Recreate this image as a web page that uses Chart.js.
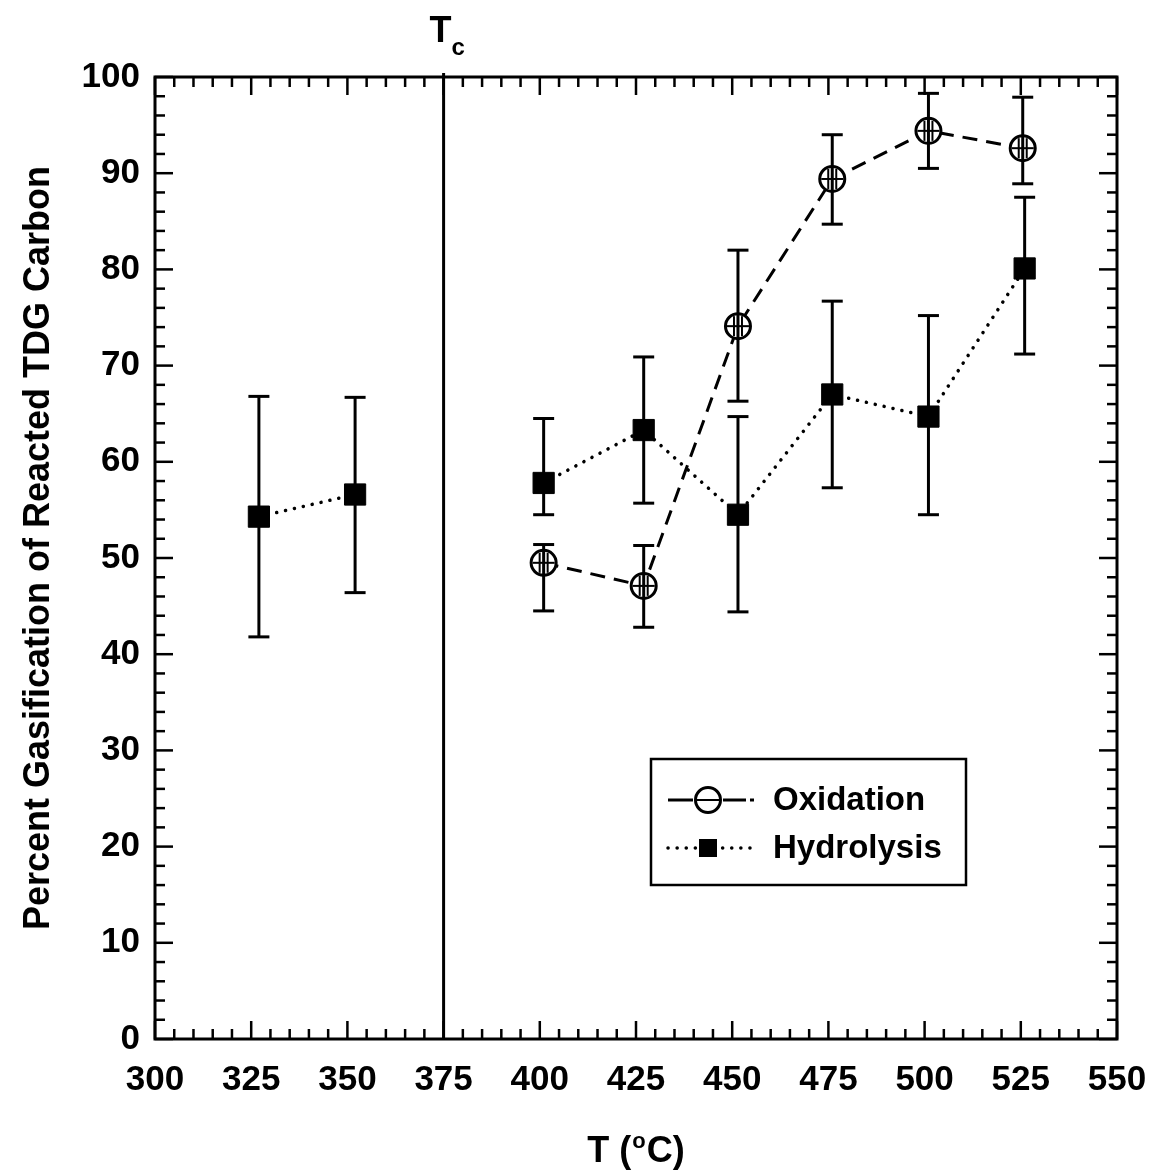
<!DOCTYPE html>
<html>
<head>
<meta charset="utf-8">
<script src="https://cdn.jsdelivr.net/npm/chart.js@4.4.1/dist/chart.umd.min.js"></script>
<style>
    body { margin: 0; background: #fff; }
    #wrap { width: 1150px; height: 1170px; }
</style>
</head>
<body>
<div id="wrap"><canvas id="gasChart"></canvas></div>
<script>

// Hydrolysis runs (filled squares)
const hydroTemp = [327, 352, 401, 427, 451.5, 476, 501, 526];
const hydroPct  = [54.3, 56.6, 57.8, 63.3, 54.5, 67.0, 64.7, 80.1];
const hydroHigh = [66.8, 66.7, 64.5, 70.9, 64.7, 76.7, 75.2, 87.5];
const hydroLow  = [41.8, 46.4, 54.5, 55.7, 44.4, 57.3, 54.5, 71.2];

// Oxidation runs (open circles)
const oxTemp = [401, 427, 451.5, 476, 501, 525.5];
const oxPct  = [49.5, 47.1, 74.1, 89.4, 94.4, 92.6];
const oxHigh = [51.4, 51.3, 82.0, 94.0, 98.3, 97.9];
const oxLow  = [44.5, 42.8, 66.3, 84.7, 90.5, 88.9];

// critical temperature of water
const criticalTemp = 375;

const seriesNames = ['Oxidation', 'Hydrolysis'];
const xTitle = ['T (', 'o', 'C)'];
const yTitle = 'Percent Gasification of Reacted TDG Carbon';

const FONT = "'Liberation Sans', Arial, Helvetica, sans-serif";

// the dotted line is broken at Tc (sub- and supercritical runs are separate)
function toPoints(xs, ys, breakAt) {
    const pts = [];
    xs.forEach(function (x, i) {
        if (breakAt !== undefined && i > 0 && xs[i - 1] < breakAt && x > breakAt) {
            pts.push({ x: breakAt, y: null });
        }
        pts.push({ x: x, y: ys[i] });
    });
    return pts;
}

function seg(ctx, x1, y1, x2, y2) {
    ctx.beginPath();
    ctx.moveTo(x1, y1);
    ctx.lineTo(x2, y2);
    ctx.stroke();
}

// frame, inward ticks, Tc line, titles and legend
const plotDecor = {
    id: 'plotDecor',
    afterDatasetsDraw: function (chart) {
        const ctx = chart.ctx;
        const a = chart.chartArea;
        const xs = chart.scales.x;
        const ys = chart.scales.y;

        ctx.save();
        ctx.strokeStyle = '#000';
        ctx.fillStyle = '#000';
        ctx.setLineDash([]);

        // error bars
        ctx.lineWidth = 3;
        function errorBars(temps, highs, lows) {
            temps.forEach(function (t, i) {
                const px = xs.getPixelForValue(t);
                const top = ys.getPixelForValue(highs[i]);
                const bot = ys.getPixelForValue(lows[i]);
                seg(ctx, px, top, px, bot);
                seg(ctx, px - 10.5, top, px + 10.5, top);
                seg(ctx, px - 10.5, bot, px + 10.5, bot);
            });
        }
        errorBars(hydroTemp, hydroHigh, hydroLow);
        errorBars(oxTemp, oxHigh, oxLow);

        // crossbar inside the open circles
        ctx.lineWidth = 2;
        oxTemp.forEach(function (t, i) {
            const px = xs.getPixelForValue(t);
            const py = ys.getPixelForValue(oxPct[i]);
            seg(ctx, px - 11, py, px + 11, py);
            seg(ctx, px - 4, py - 10, px - 4, py + 10);
            seg(ctx, px + 4, py - 10, px + 4, py + 10);
        });

        // Tc line
        ctx.lineWidth = 3;
        const tcx = xs.getPixelForValue(criticalTemp);
        seg(ctx, tcx, a.top - 4, tcx, a.bottom);

        // frame
        ctx.lineWidth = 3;
        ctx.strokeRect(a.left, a.top, a.right - a.left, a.bottom - a.top);

        // inward ticks on all four sides
        ctx.lineWidth = 2.5;
        for (let t = xs.min; t <= xs.max; t += 5) {
            const px = xs.getPixelForValue(t);
            const len = t % 25 === 0 ? 18 : 10;
            seg(ctx, px, a.bottom, px, a.bottom - len);
            seg(ctx, px, a.top, px, a.top + len);
        }
        for (let v = ys.min; v <= ys.max; v += 2) {
            const py = ys.getPixelForValue(v);
            const len = v % 10 === 0 ? 18 : 10;
            seg(ctx, a.left, py, a.left + len, py);
            seg(ctx, a.right, py, a.right - len, py);
        }

        // Tc label
        ctx.textAlign = 'left';
        ctx.textBaseline = 'alphabetic';
        ctx.font = 'bold 36px ' + FONT;
        ctx.fillText('T', tcx - 14, 42);
        ctx.font = 'bold 24px ' + FONT;
        ctx.fillText('c', tcx + 8, 55);

        // x title with superscript degree
        ctx.font = 'bold 36px ' + FONT;
        const w1 = ctx.measureText(xTitle[0]).width;
        const w3 = ctx.measureText(xTitle[2]).width;
        ctx.font = 'bold 22px ' + FONT;
        const w2 = ctx.measureText(xTitle[1]).width + 2;
        let tx = (a.left + a.right) / 2 - (w1 + w2 + w3) / 2;
        ctx.font = 'bold 36px ' + FONT;
        ctx.fillText(xTitle[0], tx, 1162);
        ctx.font = 'bold 22px ' + FONT;
        ctx.fillText(xTitle[1], tx + w1 + 1, 1148);
        ctx.font = 'bold 36px ' + FONT;
        ctx.fillText(xTitle[2], tx + w1 + w2, 1162);

        // y title
        ctx.save();
        ctx.translate(49, 548);
        ctx.rotate(-Math.PI / 2);
        ctx.textAlign = 'center';
        ctx.font = 'bold 36px ' + FONT;
        ctx.fillText(yTitle, 0, 0);
        ctx.restore();

        // legend
        ctx.lineWidth = 2.5;
        ctx.strokeRect(651, 759, 315, 126);

        ctx.lineWidth = 3;
        seg(ctx, 668, 800, 693, 800);
        seg(ctx, 723, 800, 746, 800);
        seg(ctx, 750, 800, 754, 800);
        ctx.beginPath();
        ctx.arc(708, 800, 12.5, 0, Math.PI * 2);
        ctx.fillStyle = '#fff';
        ctx.fill();
        ctx.stroke();
        ctx.lineWidth = 2;
        seg(ctx, 696, 800, 720, 800);

        ctx.fillStyle = '#000';
        ctx.lineWidth = 3.5;
        ctx.lineCap = 'round';
        ctx.setLineDash([0.1, 9]);
        seg(ctx, 668, 848, 754, 848);
        ctx.setLineDash([]);
        ctx.lineCap = 'butt';
        ctx.fillRect(699, 839, 18, 18);

        ctx.font = 'bold 33px ' + FONT;
        ctx.textBaseline = 'middle';
        ctx.fillText(seriesNames[0], 773, 801);
        ctx.fillText(seriesNames[1], 773, 849);

        ctx.restore();
    }
};

const ctxGas = document.getElementById('gasChart').getContext('2d');
const gasChart = new Chart(ctxGas, {
    type: 'scatter',
    data: {
        datasets: [{
            label: seriesNames[0],
            data: toPoints(oxTemp, oxPct),
            showLine: true,
            borderColor: '#000',
            borderWidth: 3,
            borderDash: [15, 9],
            pointStyle: 'circle',
            pointRadius: 12.5,
            pointBorderWidth: 3,
            pointBorderColor: '#000',
            pointBackgroundColor: '#fff'
        }, {
            label: seriesNames[1],
            data: toPoints(hydroTemp, hydroPct, criticalTemp),
            showLine: true,
            spanGaps: false,
            borderColor: '#000',
            borderWidth: 3.5,
            borderDash: [0.1, 9],
            borderCapStyle: 'round',
            pointStyle: 'rect',
            pointRadius: 15,
            pointBorderWidth: 1,
            pointBorderColor: '#000',
            pointBackgroundColor: '#000'
        }]
    },
    options: {
        responsive: true,
        maintainAspectRatio: false,
        animation: false,
        events: [],
        layout: { padding: { left: 0, right: 33, top: 77, bottom: 0 } },
        plugins: {
            legend: { display: false },
            tooltip: { enabled: false }
        },
        scales: {
            x: {
                type: 'linear',
                min: 300,
                max: 550,
                grid: { display: false, drawTicks: false },
                border: { display: false },
                ticks: {
                    stepSize: 25,
                    padding: 20,
                    maxRotation: 0,
                    color: '#000',
                    font: { family: FONT, size: 35, weight: 'bold' }
                },
                afterFit: function (scale) {
                    scale.height = 131;
                    scale.paddingLeft = 0;
                    scale.paddingRight = 0;
                }
            },
            y: {
                min: 0,
                max: 100,
                grid: { display: false, drawTicks: false },
                border: { display: false },
                ticks: {
                    stepSize: 10,
                    padding: 15,
                    color: '#000',
                    font: { family: FONT, size: 35, weight: 'bold' }
                },
                afterFit: function (scale) {
                    scale.width = 155;
                    scale.paddingTop = 0;
                    scale.paddingBottom = 0;
                }
            }
        }
    },
    plugins: [plotDecor]
});
</script>
</body>
</html>
